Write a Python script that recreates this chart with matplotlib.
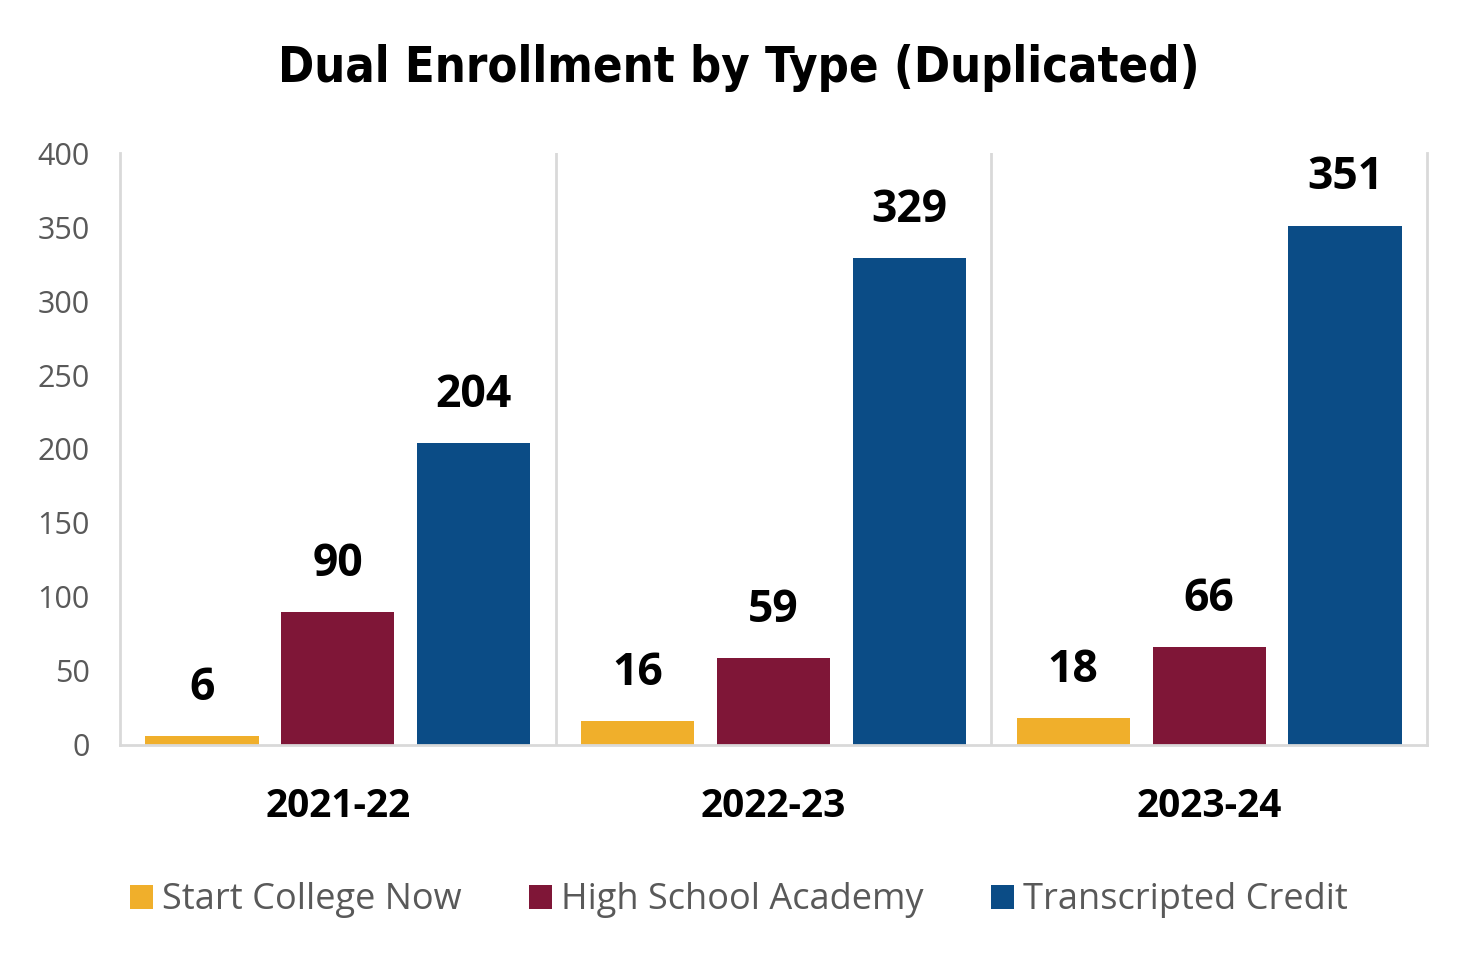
import numpy as np
import matplotlib; matplotlib.use("Agg")
import matplotlib.pyplot as plt
from matplotlib.patches import Patch

YEARS = ["2021-22", "2022-23", "2023-24"]
SERIES = ["Start College Now", "High School Academy", "Transcripted Credit"]
VALUES = {
    "Start College Now": [6, 16, 18],
    "High School Academy": [90, 59, 66],
    "Transcripted Credit": [204, 329, 351],
}
COLORS = ["#F0AF2B", "#7F1637", "#0B4C86"]
YTICKS = list(range(0, 401, 50))

SANS = ["Open Sans", "DejaVu Sans"]
GRID = "#D9D9D9"

fig = plt.figure(figsize=(14.78, 9.66), dpi=100)
ax = fig.add_axes([0.0812, 0.2288, 0.8843, 0.6128])

x = np.arange(len(YEARS))
bw, step = 0.26, 0.312
for i, (name, col) in enumerate(zip(SERIES, COLORS)):
    xs = x + (i - 1) * step
    ax.bar(xs, VALUES[name], width=bw, color=col, zorder=2)
    for xx, v in zip(xs, VALUES[name]):
        ax.text(xx, v + 17, str(v), ha="center", va="bottom", fontsize=32,
                fontweight="bold", family=SANS, color="black")

ax.set_xlim(-0.5, len(YEARS) - 0.5)
ax.set_ylim(0, 400)
ax.set_yticks(YTICKS)
ax.set_yticklabels([str(t) for t in YTICKS], fontsize=22, color="#595959", family=SANS)
ax.set_xticks(x)
ax.set_xticklabels(YEARS, fontsize=28, fontweight="bold", family=SANS)
ax.tick_params(axis="both", length=0)
ax.tick_params(axis="x", pad=30)
ax.tick_params(axis="y", pad=22)
for b in [0.5, 1.5]:
    ax.axvline(b, color=GRID, lw=2, zorder=1)
ax.spines["top"].set_visible(False)
for s in ["left", "right", "bottom"]:
    ax.spines[s].set_color(GRID)
    ax.spines[s].set_linewidth(2)

fig.text(0.5, 0.93, "Dual Enrollment by Type (Duplicated)", ha="center", va="center",
         fontsize=35, fontweight="bold", family="DejaVu Sans", fontstretch="condensed")

handles = [Patch(facecolor=c, label=n) for n, c in zip(SERIES, COLORS)]
leg = fig.legend(handles=handles, loc="center", bbox_to_anchor=(0.5, 0.068), ncol=3,
                 frameon=False, handlelength=0.65, handleheight=0.65, handletextpad=0.25,
                 columnspacing=1.85, prop={"family": SANS, "size": 26})
for t in leg.get_texts():
    t.set_color("#595959")

fig.savefig("out.png", dpi=100)
